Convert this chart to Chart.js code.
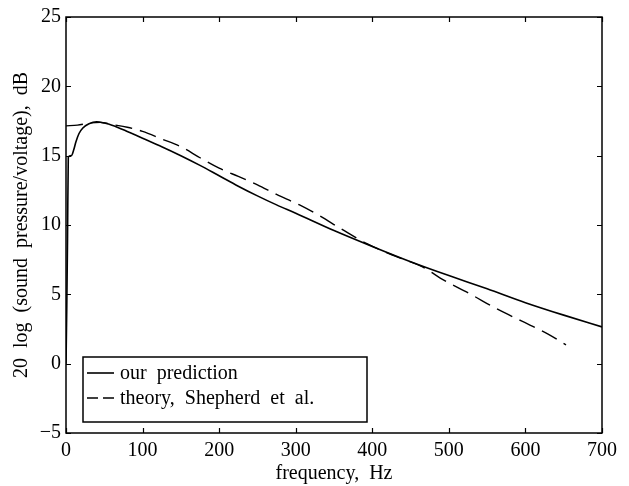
<!DOCTYPE html>
<html>
<head>
<meta charset="utf-8">
<script src="https://cdn.jsdelivr.net/npm/chart.js@4/dist/chart.umd.min.js"></script>
<style>
  html, body { margin: 0; padding: 0; background: #fff; }
  #wrap { width: 629px; height: 486px; position: relative; }
</style>
</head>
<body>
<div id="wrap"><canvas id="c"></canvas></div>
<script>
// values
const predFreq = [0, 1, 2, 3, 7, 10, 13, 17, 22, 30, 40, 50, 60, 80, 100, 125, 150, 175, 200, 225, 250, 275, 300, 350, 400, 450, 500, 550, 600, 650, 700];
const predDb   = [0, 4, 9, 14.9, 15.0, 15.4, 16.0, 16.6, 17.0, 17.3, 17.45, 17.35, 17.2, 16.75, 16.25, 15.65, 15.0, 14.3, 13.55, 12.8, 12.1, 11.45, 10.85, 9.6, 8.45, 7.35, 6.35, 5.4, 4.4, 3.5, 2.65];

const theoryFreq = [0, 15, 30, 45, 60, 80, 100, 125, 150, 175, 200, 225, 250, 275, 295, 305, 330, 360, 393, 430, 465, 494, 527, 561, 594, 629, 653];
const theoryDb   = [17.15, 17.2, 17.35, 17.4, 17.25, 17.05, 16.75, 16.2, 15.65, 14.85, 14.1, 13.5, 12.9, 12.2, 11.7, 11.45, 10.7, 9.7, 8.65, 7.75, 7.0, 6.0, 5.05, 4.0, 3.1, 2.15, 1.35];

const xTicks = [0, 100, 200, 300, 400, 500, 600, 700];
const yTicks = [-5, 0, 5, 10, 15, 20, 25];

const seriesNames = ['our  prediction', 'theory,  Shepherd  et  al.'];

const FONT = 'Liberation Serif, DejaVu Serif, serif';

function toPoints(xs, ys) {
    return xs.map((x, i) => ({ x: x, y: ys[i] }));
}

// box, inward ticks on all four sides and the legend box
const framePlugin = {
    id: 'frame',
    afterDraw(chart) {
        const ctx = chart.ctx;
        const a = chart.chartArea;
        const xs = chart.scales.x, ys = chart.scales.y;
        const tl = 5;
        ctx.save();
        ctx.strokeStyle = '#000';
        ctx.lineWidth = 1.5;
        ctx.strokeRect(a.left, a.top, a.right - a.left, a.bottom - a.top);
        ctx.lineWidth = 1.2;
        ctx.beginPath();
        xTicks.forEach(v => {
            const px = Math.round(xs.getPixelForValue(v)) + 0.5;
            ctx.moveTo(px, a.bottom); ctx.lineTo(px, a.bottom - tl);
            ctx.moveTo(px, a.top); ctx.lineTo(px, a.top + tl);
        });
        yTicks.forEach(v => {
            const py = Math.round(ys.getPixelForValue(v)) + 0.5;
            ctx.moveTo(a.left, py); ctx.lineTo(a.left + tl, py);
            ctx.moveTo(a.right, py); ctx.lineTo(a.right - tl, py);
        });
        ctx.stroke();

        // legend
        const lx = 83, ly = 357, lw = 284, lh = 65;
        ctx.fillStyle = '#fff';
        ctx.fillRect(lx, ly, lw, lh);
        ctx.lineWidth = 1.5;
        ctx.strokeRect(lx, ly, lw, lh);
        const rows = [373, 398];
        chart.data.datasets.forEach((ds, i) => {
            ctx.beginPath();
            ctx.lineWidth = ds.borderWidth;
            ctx.setLineDash(ds.borderDash ? [11, 5] : []);
            ctx.moveTo(87, rows[i]);
            ctx.lineTo(114, rows[i]);
            ctx.stroke();
            ctx.setLineDash([]);
            ctx.fillStyle = '#000';
            ctx.font = '20px ' + FONT;
            ctx.textBaseline = 'middle';
            ctx.fillText(ds.label, 120, rows[i] + 1);
        });
        ctx.restore();
    }
};

new Chart(document.getElementById('c'), {
    type: 'scatter',
    data: {
        datasets: [
            {
                label: seriesNames[0],
                data: toPoints(predFreq, predDb),
                showLine: true,
                borderColor: '#000',
                borderWidth: 1.6,
                pointRadius: 0,
                cubicInterpolationMode: 'monotone',
                fill: false
            },
            {
                label: seriesNames[1],
                data: toPoints(theoryFreq, theoryDb),
                showLine: true,
                borderColor: '#000',
                borderWidth: 1.4,
                borderDash: [17, 8],
                pointRadius: 0,
                cubicInterpolationMode: 'monotone',
                fill: false
            }
        ]
    },
    options: {
        responsive: true,
        maintainAspectRatio: false,
        animation: false,
        layout: { padding: { top: 14, right: 27, left: 0, bottom: 0 } },
        plugins: { legend: { display: false }, tooltip: { enabled: false } },
        scales: {
            x: {
                type: 'linear',
                min: 0, max: 700,
                afterBuildTicks: s => { s.ticks = xTicks.map(v => ({ value: v })); },
                afterFit: s => { s.height = 53; },
                grid: { display: false, drawTicks: false },
                border: { display: false },
                ticks: { color: '#000', padding: 6, font: { family: FONT, size: 20 }, maxRotation: 0 },
                title: { display: true, text: 'frequency,  Hz', color: '#000', padding: { top: 0, bottom: 0 }, font: { family: FONT, size: 20 } }
            },
            y: {
                type: 'linear',
                min: -5, max: 25,
                afterBuildTicks: s => { s.ticks = yTicks.map(v => ({ value: v })); },
                afterFit: s => { s.width = 66; },
                grid: { display: false, drawTicks: false },
                border: { display: false },
                ticks: {
                    color: '#000', padding: 5, font: { family: FONT, size: 20 },
                    callback: v => (v < 0 ? '\u2212' + Math.abs(v) : String(v))
                },
                title: { display: true, text: '20  log  (sound  pressure/voltage),  dB', color: '#000', padding: { top: 10, bottom: 0 }, font: { family: FONT, size: 20 } }
            }
        }
    },
    plugins: [framePlugin]
});
</script>
</body>
</html>
